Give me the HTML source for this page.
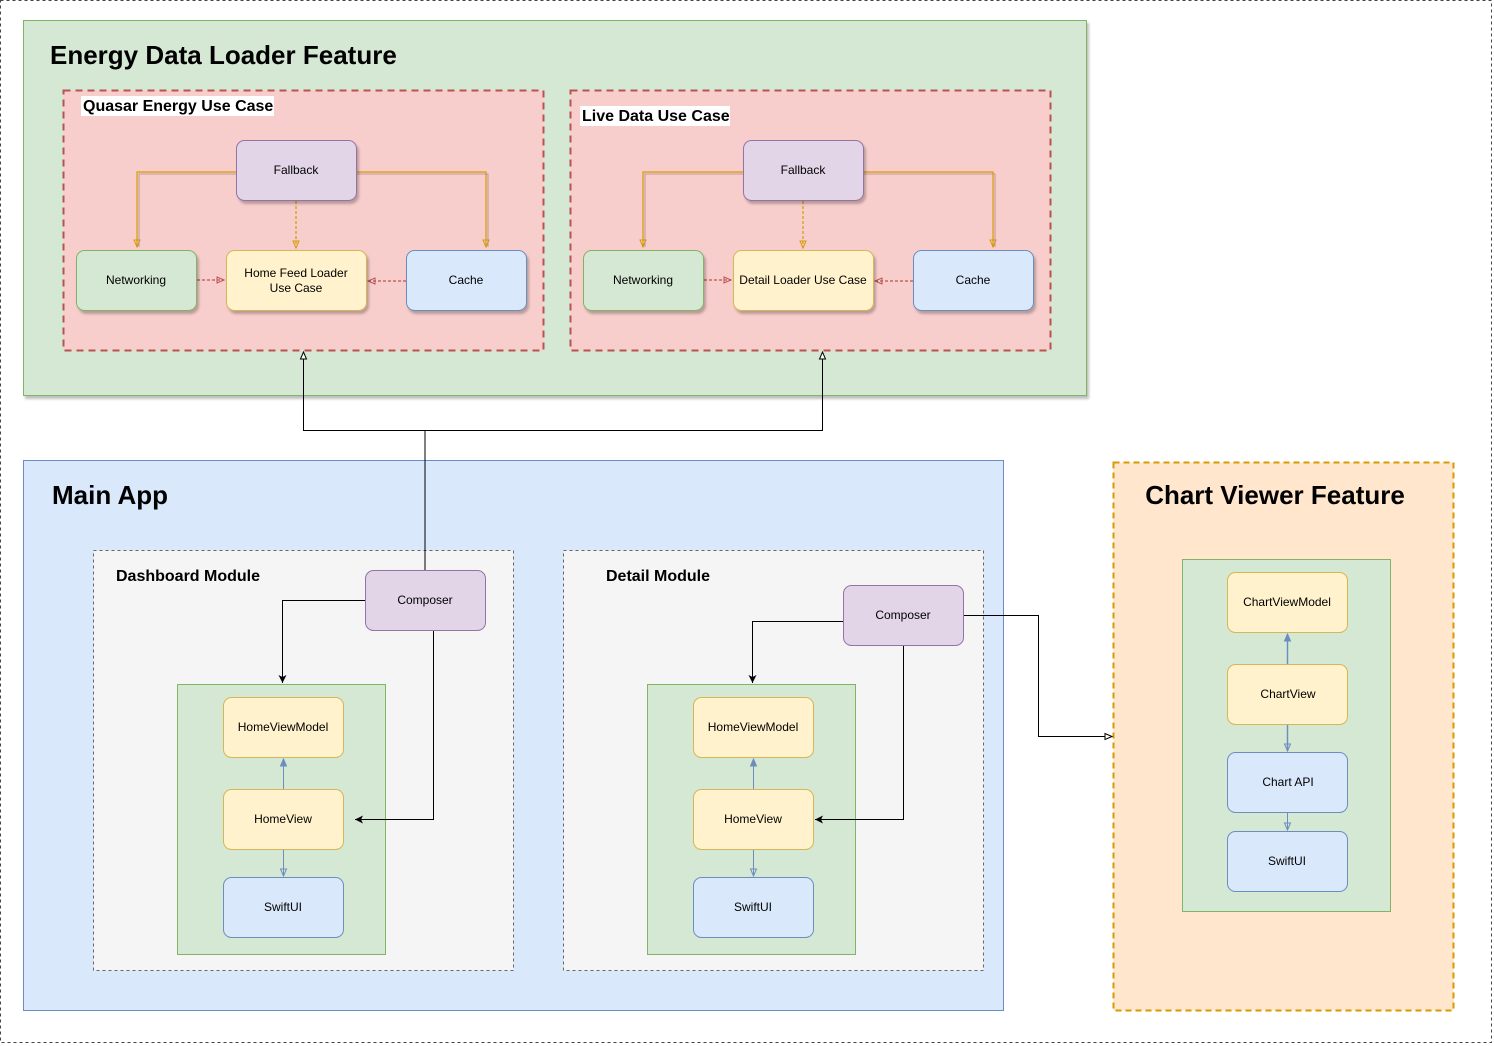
<!DOCTYPE html>
<html><head><meta charset="utf-8"><style>html,body{margin:0;padding:0;background:#fff}svg{display:block}text{font-family:"Liberation Sans",Arial,sans-serif}</style></head><body>
<svg width="1494" height="1046" viewBox="0 0 1494 1046" xmlns="http://www.w3.org/2000/svg">
<defs>
<marker id="ob" markerWidth="10" markerHeight="10" refX="8" refY="4" orient="auto" markerUnits="userSpaceOnUse"><path d="M1,1 L8,4 L1,7 Z" fill="#fff" stroke="#000" stroke-width="1"/></marker>
<marker id="fb" markerWidth="10" markerHeight="10" refX="8" refY="4" orient="auto" markerUnits="userSpaceOnUse"><path d="M0,0 L8,4 L0,8 L2,4 Z" fill="#000"/></marker>
<marker id="oo" markerWidth="10" markerHeight="10" refX="8" refY="4" orient="auto" markerUnits="userSpaceOnUse"><path d="M1,1 L8,4 L1,7 Z" fill="none" stroke="#d79b00" stroke-width="1"/></marker>
<marker id="or" markerWidth="10" markerHeight="10" refX="8" refY="4" orient="auto" markerUnits="userSpaceOnUse"><path d="M1,1 L8,4 L1,7 Z" fill="none" stroke="#b85450" stroke-width="1"/></marker>
<marker id="obl" markerWidth="10" markerHeight="10" refX="8" refY="4" orient="auto" markerUnits="userSpaceOnUse"><path d="M1,1 L8,4 L1,7 Z" fill="none" stroke="#6c8ebf" stroke-width="1"/></marker>
<marker id="fbl" markerWidth="10" markerHeight="10" refX="8" refY="4" orient="auto" markerUnits="userSpaceOnUse"><path d="M1,1 L8,4 L1,7 Z" fill="#6c8ebf" stroke="#6c8ebf" stroke-width="1"/></marker>
<filter id="sh"><feDropShadow dx="2" dy="3" stdDeviation="1.2" flood-color="#000" flood-opacity="0.25"/></filter>
</defs>
<rect x="0.5" y="0.5" width="1491" height="1042" fill="#fff" stroke="#444" stroke-dasharray="3 3"/>

<rect x="23.5" y="20.5" width="1063" height="375" fill="#d5e8d4" stroke="#82b366" filter="url(#sh)"/>
<text x="50" y="64" font-size="26" font-weight="bold">Energy Data Loader Feature</text>
<rect x="63.5" y="90.5" width="480" height="260" fill="#f8cecc" stroke="#b85450" stroke-width="2" stroke-dasharray="7 5"/>
<rect x="81" y="96" width="193" height="20" fill="#fff"/>
<text x="83" y="111" font-size="16" font-weight="bold">Quasar Energy Use Case</text>
<rect x="570.5" y="90.5" width="480" height="260" fill="#f8cecc" stroke="#b85450" stroke-width="2" stroke-dasharray="7 5"/>
<rect x="580" y="106" width="150" height="20" fill="#fff"/>
<text x="582" y="121" font-size="16" font-weight="bold">Live Data Use Case</text>

<g fill="none" stroke-width="1.2">
<path d="M236,172 H137 V247" stroke="#d79b00" marker-end="url(#oo)"/>
<path d="M236,174 H139 V247" stroke="#b08a8a" stroke-width="0.8"/>
<path d="M357,172 H486 V247" stroke="#d79b00" marker-end="url(#oo)"/>
<path d="M357,174 H488 V247" stroke="#b08a8a" stroke-width="0.8"/>
<path d="M296,201 V248" stroke="#d79b00" stroke-dasharray="3 2" marker-end="url(#oo)"/>
<path d="M197,280 H224" stroke="#b85450" stroke-dasharray="3 2" marker-end="url(#or)"/>
<path d="M406,281 H368" stroke="#b85450" stroke-dasharray="3 2" marker-end="url(#or)"/>
<path d="M743,172 H643 V247" stroke="#d79b00" marker-end="url(#oo)"/>
<path d="M743,174 H645 V247" stroke="#b08a8a" stroke-width="0.8"/>
<path d="M864,172 H993 V247" stroke="#d79b00" marker-end="url(#oo)"/>
<path d="M864,174 H995 V247" stroke="#b08a8a" stroke-width="0.8"/>
<path d="M803,201 V248" stroke="#d79b00" stroke-dasharray="3 2" marker-end="url(#oo)"/>
<path d="M704,280 H731" stroke="#b85450" stroke-dasharray="3 2" marker-end="url(#or)"/>
<path d="M913,281 H875" stroke="#b85450" stroke-dasharray="3 2" marker-end="url(#or)"/>
</g>
<g font-size="12" text-anchor="middle" filter="url(#sh)">
<rect x="236.5" y="140.5" width="120" height="60" rx="8" fill="#e1d5e7" stroke="#9673a6"/>
<rect x="76.5" y="250.5" width="120" height="60" rx="8" fill="#d5e8d4" stroke="#82b366"/>
<rect x="226.5" y="250.5" width="140" height="60" rx="8" fill="#fff2cc" stroke="#d6b656"/>
<rect x="406.5" y="250.5" width="120" height="60" rx="8" fill="#dae8fc" stroke="#6c8ebf"/>
<rect x="743.5" y="140.5" width="120" height="60" rx="8" fill="#e1d5e7" stroke="#9673a6"/>
<rect x="583.5" y="250.5" width="120" height="60" rx="8" fill="#d5e8d4" stroke="#82b366"/>
<rect x="733.5" y="250.5" width="140" height="60" rx="8" fill="#fff2cc" stroke="#d6b656"/>
<rect x="913.5" y="250.5" width="120" height="60" rx="8" fill="#dae8fc" stroke="#6c8ebf"/>
</g>
<g font-size="12" text-anchor="middle">
<text x="296" y="174">Fallback</text>
<text x="136" y="284">Networking</text>
<text x="296" y="277">Home Feed Loader</text><text x="296" y="292">Use Case</text>
<text x="466" y="284">Cache</text>
<text x="803" y="174">Fallback</text>
<text x="643" y="284">Networking</text>
<text x="803" y="284">Detail Loader Use Case</text>
<text x="973" y="284">Cache</text>
</g>

<rect x="23.5" y="460.5" width="980" height="550" fill="#dae8fc" stroke="#6c8ebf"/>
<text x="52" y="504" font-size="26" font-weight="bold">Main App</text>
<rect x="93.5" y="550.5" width="420" height="420" fill="#f5f5f5" stroke="#666" stroke-dasharray="3 3"/>
<text x="116" y="581" font-size="16" font-weight="bold">Dashboard Module</text>
<rect x="563.5" y="550.5" width="420" height="420" fill="#f5f5f5" stroke="#666" stroke-dasharray="3 3"/>
<text x="606" y="581" font-size="16" font-weight="bold">Detail Module</text>
<rect x="177.5" y="684.5" width="208" height="270" fill="#d5e8d4" stroke="#82b366"/>
<rect x="647.5" y="684.5" width="208" height="270" fill="#d5e8d4" stroke="#82b366"/>

<rect x="1113.5" y="462.5" width="340" height="548" fill="#ffe6cc" stroke="#d79b00" stroke-width="2" stroke-dasharray="6 4"/>
<text x="1275" y="504" font-size="26" font-weight="bold" text-anchor="middle">Chart Viewer Feature</text>
<rect x="1182.5" y="559.5" width="208" height="352" fill="#d5e8d4" stroke="#82b366"/>

<g fill="none" stroke="#000" stroke-width="1">
<path d="M425,570 V430.5 H303.5 V352" marker-end="url(#ob)"/>
<path d="M425,430.5 H822.5 V352" marker-end="url(#ob)"/>
<path d="M365,600.5 H282.5 V683" marker-end="url(#fb)"/>
<path d="M433.5,630 V819.5 H355" marker-end="url(#fb)"/>
<path d="M843,621.5 H752.5 V683" marker-end="url(#fb)"/>
<path d="M903.5,645 V819.5 H815" marker-end="url(#fb)"/>
<path d="M963,615.5 H1038.5 V736.5 H1112" marker-end="url(#ob)"/>
</g>
<g fill="none" stroke="#6c8ebf" stroke-width="1">
<path d="M283.5,789 V759" marker-end="url(#fbl)"/>
<path d="M283.5,849 V876" marker-end="url(#obl)"/>
<path d="M753.5,789 V759" marker-end="url(#fbl)"/>
<path d="M753.5,849 V876" marker-end="url(#obl)"/>
<path d="M1287.5,664 V634" marker-end="url(#fbl)" stroke-width="1.5"/>
<path d="M1287.5,724 V751" marker-end="url(#obl)" stroke-width="1.5"/>
<path d="M1287.5,812 V830" marker-end="url(#obl)"/>
</g>

<g>
<rect x="365.5" y="570.5" width="120" height="60" rx="8" fill="#e1d5e7" stroke="#9673a6"/>
<rect x="843.5" y="585.5" width="120" height="60" rx="8" fill="#e1d5e7" stroke="#9673a6"/>
<rect x="223.5" y="697.5" width="120" height="60" rx="8" fill="#fff2cc" stroke="#d6b656"/>
<rect x="223.5" y="789.5" width="120" height="60" rx="8" fill="#fff2cc" stroke="#d6b656"/>
<rect x="223.5" y="877.5" width="120" height="60" rx="8" fill="#dae8fc" stroke="#6c8ebf"/>
<rect x="693.5" y="697.5" width="120" height="60" rx="8" fill="#fff2cc" stroke="#d6b656"/>
<rect x="693.5" y="789.5" width="120" height="60" rx="8" fill="#fff2cc" stroke="#d6b656"/>
<rect x="693.5" y="877.5" width="120" height="60" rx="8" fill="#dae8fc" stroke="#6c8ebf"/>
<rect x="1227.5" y="572.5" width="120" height="60" rx="8" fill="#fff2cc" stroke="#d6b656"/>
<rect x="1227.5" y="664.5" width="120" height="60" rx="8" fill="#fff2cc" stroke="#d6b656"/>
<rect x="1227.5" y="752.5" width="120" height="60" rx="8" fill="#dae8fc" stroke="#6c8ebf"/>
<rect x="1227.5" y="831.5" width="120" height="60" rx="8" fill="#dae8fc" stroke="#6c8ebf"/>
</g>
<g font-size="12" text-anchor="middle">
<text x="425" y="604">Composer</text>
<text x="903" y="619">Composer</text>
<text x="283" y="731">HomeViewModel</text>
<text x="283" y="823">HomeView</text>
<text x="283" y="911">SwiftUI</text>
<text x="753" y="731">HomeViewModel</text>
<text x="753" y="823">HomeView</text>
<text x="753" y="911">SwiftUI</text>
<text x="1287" y="606">ChartViewModel</text>
<text x="1288" y="698">ChartView</text>
<text x="1288" y="786">Chart API</text>
<text x="1287" y="865">SwiftUI</text>
</g>
</svg>
</body></html>
